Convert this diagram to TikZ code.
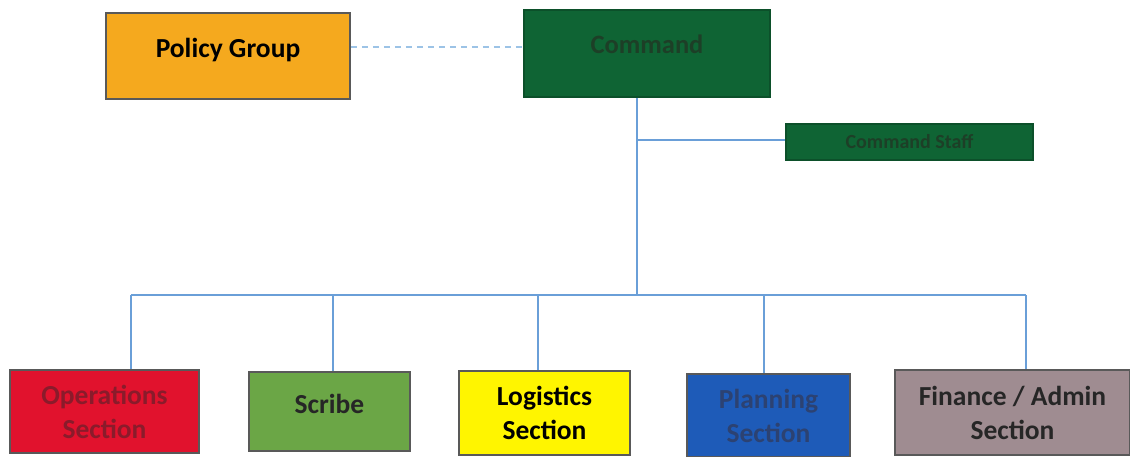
\documentclass[tikz,border=0pt]{standalone}
\usepackage{fontspec}
\setmainfont{Carlito}
\definecolor{policyorange}{HTML}{F5A91E}
\definecolor{cmdgreen}{HTML}{0F6434}
\definecolor{cmdtext}{HTML}{1D3F27}
\definecolor{opsred}{HTML}{E1122D}
\definecolor{opstext}{HTML}{8A1B2B}
\definecolor{scribegreen}{HTML}{6BA646}
\definecolor{logyellow}{HTML}{FFF500}
\definecolor{planblue}{HTML}{1E5BB8}
\definecolor{plantext}{HTML}{2C4272}
\definecolor{finmauve}{HTML}{9F8C91}
\definecolor{linkblue}{HTML}{6A9FD8}
\definecolor{dashblue}{HTML}{9CC3E6}
\tikzset{
  box/.style={draw=black!65, line width=1.5pt, align=center, font=\bfseries\fontsize{27.5}{34}\selectfont, inner sep=0pt},
  link/.style={draw=linkblue, line width=2pt},
}
\begin{document}
\begin{tikzpicture}[x=1pt, y=-1pt]
    \useasboundingbox (0,0) rectangle (1130,457);
    \node[box, fill=policyorange, minimum width=244pt, minimum height=86pt] (pol) at (228,56) {\raisebox{16pt}{Policy Group}};
    \node[box, fill=cmdgreen, draw=cmdgreen!80!black, text=cmdtext, minimum width=246pt, minimum height=87pt, font=\bfseries\fontsize{26.5}{32}\selectfont] (cmd) at (647,53.5) {\raisebox{18pt}{Command}};
    \node[box, fill=cmdgreen, draw=cmdgreen!80!black, text=cmdtext, minimum width=247pt, minimum height=36pt, font=\bfseries\fontsize{20}{24}\selectfont] (staff) at (909.5,142) {\raisebox{-6pt}{Command Staff}};
    \node[box, fill=opsred, text=opstext, minimum width=189pt, minimum height=83pt] (ops) at (104.5,411.5) {Operations\\Section};
    \node[box, fill=scribegreen, text=black!85, minimum width=161pt, minimum height=79pt] (scr) at (329.5,411.5) {\raisebox{16pt}{Scribe}};
    \node[box, fill=logyellow, text=black, minimum width=171pt, minimum height=84pt] (log) at (544.5,413) {Logistics\\Section};
    \node[box, fill=planblue, text=plantext, minimum width=163pt, minimum height=83pt] (pln) at (768.5,415.5) {Planning\\Section};
    \node[box, fill=finmauve, text=black!85, minimum width=235pt, minimum height=85pt] (fin) at (1012.5,412.5) {Finance / Admin\\Section};
    \coordinate (stafftap) at (637,140); %% branch to staff
    \coordinate (bus) at (637,295);
    \coordinate (opsdrop) at (131,295);
    \coordinate (scrdrop) at (333,295);
    \coordinate (logdrop) at (538,295);
    \coordinate (plndrop) at (764,295);
    \coordinate (findrop) at (1026,295);
    \draw[draw=dashblue, line width=2pt, dash pattern=on 6pt off 5pt] ([yshift=9pt]pol.east) -- ([yshift=9pt]pol.east -| cmd.west); %% liaison
    \draw[link] (cmd.south -| bus) -- (bus);
    \draw[link] (stafftap) -- (staff.west |- stafftap);
    \draw[link] (opsdrop) -- (findrop); %% bus
    \draw[link] (opsdrop) -- (opsdrop |- ops.north);
    \draw[link] (scrdrop) -- (scrdrop |- scr.north);
    \draw[link] (logdrop) -- (logdrop |- log.north);
    \draw[link] (plndrop) -- (plndrop |- pln.north);
    \draw[link] (findrop) -- (findrop |- fin.north);
\end{tikzpicture}
\end{document}
